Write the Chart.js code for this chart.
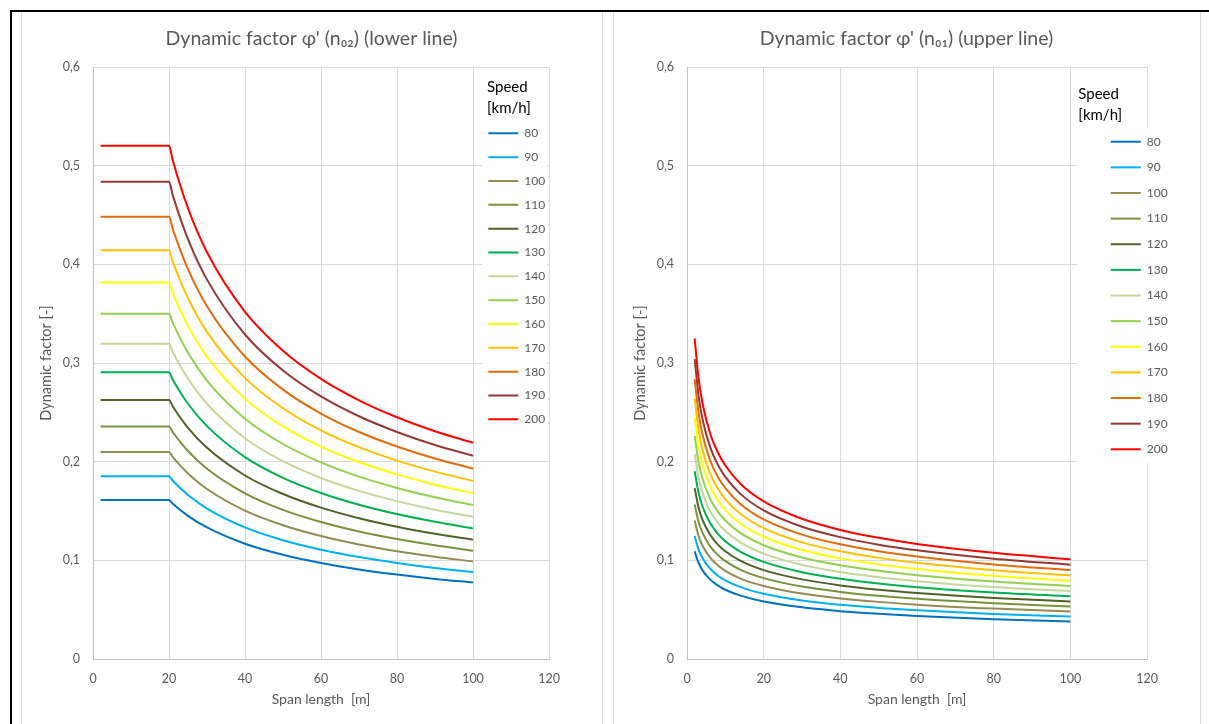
<!DOCTYPE html>
<html>
<head>
<meta charset="utf-8">
<script src="https://cdn.jsdelivr.net/npm/chart.js@4.4.1/dist/chart.umd.min.js"></script>
<style>
html, body { margin: 0; padding: 0; background: #ffffff; width: 1209px; height: 724px; overflow: hidden; position: relative; }
.frameTop { position: absolute; left: 10px; top: 10px; width: 1199px; height: 2px; background: #000; }
.frameLeft { position: absolute; left: 10px; top: 10px; width: 2px; height: 714px; background: #000; }
.box { position: absolute; top: 12px; height: 712px; border-left: 1px solid #D9D9D9; border-right: 1px solid #D9D9D9; box-sizing: border-box; }
canvas { position: absolute; top: 12px; }
</style>
</head>
<body>
<div class="frameTop"></div>
<div class="frameLeft"></div>
<div class="box" style="left:21px;width:582px;"></div>
<div class="box" style="left:613px;width:588px;"></div>
<canvas id="cLower" width="581" height="712" style="left:21px;"></canvas>
<canvas id="cUpper" width="587" height="712" style="left:613px;"></canvas>
<script>
// ---------------- data ----------------
const speeds = [80, 90, 100, 110, 120, 130, 140, 150, 160, 170, 180, 190, 200];
const xTickLabels = ['0', '20', '40', '60', '80', '100', '120'];
const yTickLabels = ['0', '0,1', '0,2', '0,3', '0,4', '0,5', '0,6'];

// lower line (n02): span length [m]
const spanLower = [2, 20, 21, 25, 30, 40, 50, 60, 70, 80, 90, 100];
const lower80  = [0.1612, 0.1612, 0.1574, 0.1451, 0.1333, 0.1168, 0.1056, 0.0973, 0.0908, 0.0856, 0.0812, 0.0776];
const lower90  = [0.1851, 0.1851, 0.1806, 0.1662, 0.1525, 0.1334, 0.1204, 0.1108, 0.1033, 0.0973, 0.0923, 0.0881];
const lower100 = [0.2099, 0.2099, 0.2047, 0.1881, 0.1723, 0.1504, 0.1356, 0.1246, 0.1161, 0.1093, 0.1037, 0.0989];
const lower110 = [0.2357, 0.2357, 0.2298, 0.2108, 0.1928, 0.1679, 0.1511, 0.1388, 0.1292, 0.1216, 0.1152, 0.1098];
const lower120 = [0.2625, 0.2625, 0.2559, 0.2343, 0.2140, 0.1860, 0.1672, 0.1534, 0.1427, 0.1341, 0.1270, 0.1210];
const lower130 = [0.2905, 0.2905, 0.2830, 0.2587, 0.2360, 0.2046, 0.1836, 0.1683, 0.1564, 0.1469, 0.1390, 0.1324];
const lower140 = [0.3196, 0.3196, 0.3112, 0.2841, 0.2587, 0.2238, 0.2005, 0.1835, 0.1704, 0.1600, 0.1513, 0.1441];
const lower150 = [0.3499, 0.3499, 0.3406, 0.3103, 0.2822, 0.2435, 0.2179, 0.1992, 0.1848, 0.1734, 0.1639, 0.1560];
const lower160 = [0.3815, 0.3815, 0.3711, 0.3376, 0.3065, 0.2639, 0.2357, 0.2153, 0.1996, 0.1871, 0.1767, 0.1681];
const lower170 = [0.4143, 0.4143, 0.4028, 0.3658, 0.3316, 0.2849, 0.2541, 0.2318, 0.2147, 0.2011, 0.1899, 0.1805];
const lower180 = [0.4483, 0.4483, 0.4357, 0.3952, 0.3576, 0.3066, 0.2730, 0.2487, 0.2301, 0.2154, 0.2032, 0.1931];
const lower190 = [0.4837, 0.4837, 0.4699, 0.4255, 0.3845, 0.3289, 0.2924, 0.2661, 0.2460, 0.2301, 0.2169, 0.2060];
const lower200 = [0.5203, 0.5203, 0.5053, 0.4569, 0.4123, 0.3519, 0.3124, 0.2839, 0.2622, 0.2450, 0.2309, 0.2191];

// upper line (n01): span length [m]
const spanUpper = [2, 3, 4, 6, 8, 10, 14, 20, 30, 40, 50, 60, 80, 100];
const upper80  = [0.1092, 0.0976, 0.0901, 0.0807, 0.0746, 0.0702, 0.0642, 0.0583, 0.0524, 0.0485, 0.0458, 0.0436, 0.0404, 0.0381];
const upper90  = [0.1246, 0.1111, 0.1026, 0.0917, 0.0847, 0.0797, 0.0728, 0.0661, 0.0593, 0.0549, 0.0518, 0.0493, 0.0457, 0.0431];
const upper100 = [0.1403, 0.1250, 0.1153, 0.1029, 0.0950, 0.0894, 0.0815, 0.0740, 0.0663, 0.0614, 0.0579, 0.0551, 0.0511, 0.0481];
const upper110 = [0.1565, 0.1392, 0.1283, 0.1144, 0.1055, 0.0992, 0.0904, 0.0820, 0.0734, 0.0680, 0.0640, 0.0610, 0.0565, 0.0532];
const upper120 = [0.1732, 0.1538, 0.1415, 0.1261, 0.1162, 0.1092, 0.0994, 0.0901, 0.0807, 0.0746, 0.0702, 0.0669, 0.0619, 0.0583];
const upper130 = [0.1903, 0.1688, 0.1551, 0.1380, 0.1271, 0.1194, 0.1086, 0.0984, 0.0880, 0.0813, 0.0765, 0.0728, 0.0674, 0.0635];
const upper140 = [0.2080, 0.1841, 0.1691, 0.1502, 0.1383, 0.1297, 0.1180, 0.1068, 0.0954, 0.0881, 0.0829, 0.0789, 0.0730, 0.0687];
const upper150 = [0.2261, 0.1999, 0.1834, 0.1627, 0.1496, 0.1403, 0.1275, 0.1153, 0.1029, 0.0950, 0.0894, 0.0850, 0.0786, 0.0740];
const upper160 = [0.2448, 0.2160, 0.1979, 0.1754, 0.1612, 0.1511, 0.1371, 0.1239, 0.1105, 0.1020, 0.0959, 0.0912, 0.0843, 0.0793];
const upper170 = [0.2640, 0.2325, 0.2129, 0.1884, 0.1730, 0.1620, 0.1469, 0.1326, 0.1182, 0.1091, 0.1025, 0.0975, 0.0900, 0.0847];
const upper180 = [0.2837, 0.2496, 0.2282, 0.2017, 0.1850, 0.1732, 0.1569, 0.1415, 0.1261, 0.1162, 0.1092, 0.1038, 0.0958, 0.0901];
const upper190 = [0.3040, 0.2670, 0.2439, 0.2153, 0.1973, 0.1845, 0.1671, 0.1506, 0.1340, 0.1235, 0.1159, 0.1102, 0.1017, 0.0956];
const upper200 = [0.3250, 0.2849, 0.2600, 0.2291, 0.2098, 0.1961, 0.1774, 0.1598, 0.1421, 0.1308, 0.1228, 0.1166, 0.1076, 0.1011];

// ---------------- styling ----------------
const seriesColors = ['#0070C0', '#00B0F0', '#948A54', '#77933C', '#4F6228', '#00B050', '#C4D79B',
                      '#92D050', '#FFFF00', '#FFC000', '#E26B0A', '#953735', '#FF0000'];
const FONT = 'Lato, "Open Sans", "Noto Sans", sans-serif';
const GREY = '#595959';

const lowerSeries = [lower80, lower90, lower100, lower110, lower120, lower130, lower140,
                     lower150, lower160, lower170, lower180, lower190, lower200];
const upperSeries = [upper80, upper90, upper100, upper110, upper120, upper130, upper140,
                     upper150, upper160, upper170, upper180, upper190, upper200];

// places the library legend at a fixed spot, with a white backing and a two-line heading
const legendPlacer = {
  id: 'legendPlacer',
  afterLayout(chart, args, o) {
    const lg = chart.legend;
    if (!lg) return;
    lg.left = o.left; lg.top = o.top;
    lg.right = o.left + 118; lg.bottom = o.top + 420;
    if (!lg._wrapped) {
      const orig = lg.draw;
      lg.draw = function () {
        const c = chart.ctx;
        const opt = chart.options.plugins.legendPlacer;
        c.save();
        c.fillStyle = '#ffffff';
        c.fillRect(opt.box[0], opt.box[1], opt.box[2], opt.box[3]);
        c.fillStyle = '#000000';
        c.font = '15px ' + FONT;
        c.textAlign = 'left';
        c.textBaseline = 'middle';
        opt.heading.forEach((t, i) => c.fillText(t, opt.hx, opt.hy + i * opt.hlh));
        c.restore();
        return orig.apply(this, arguments);
      };
      lg._wrapped = true;
    }
  }
};

function makeChart(id, cfg) {
  const datasets = speeds.map((s, i) => ({
    label: String(s),
    data: cfg.span.map((x, j) => ({ x: x, y: cfg.series[i][j] })),
    borderColor: seriesColors[i],
    backgroundColor: seriesColors[i],
    pointBorderColor: seriesColors[i],
    pointBorderWidth: 2,
    borderWidth: 2,
    pointRadius: 0,
    pointHoverRadius: 0,
    fill: false,
    cubicInterpolationMode: 'monotone'
  }));
  return new Chart(document.getElementById(id), {
    type: 'line',
    data: { datasets },
    options: {
      responsive: false,
      animation: false,
      devicePixelRatio: 1,
      layout: { padding: 0 },
      plugins: {
        title: {
          display: true, text: cfg.title, color: GREY,
          font: { family: FONT, size: 19.5, weight: 'normal' },
          padding: { top: 15.3, bottom: 16.3 }
        },
        legend: {
          display: true, position: 'chartArea', align: 'start',
          labels: {
            usePointStyle: true, pointStyle: 'line', pointStyleWidth: 30,
            color: GREY, font: { family: FONT, size: 12 }, padding: cfg.legPad
          }
        },
        tooltip: { enabled: false },
        legendPlacer: cfg.legend
      },
      scales: {
        x: {
          type: 'linear', min: 0, max: 120,
          afterFit: (s) => { s.height = 65; },
          ticks: {
            stepSize: 20, padding: 12, color: GREY, maxRotation: 0,
            font: { family: FONT, size: 12.5 },
            callback: (v) => xTickLabels[Math.round(v / 20)]
          },
          grid: { color: '#D9D9D9', drawTicks: false },
          border: { color: '#BFBFBF' },
          title: {
            display: true, text: 'Span length  [m]', color: GREY,
            font: { family: FONT, size: 14 }, padding: { top: 0, bottom: 16.6 }
          }
        },
        y: {
          type: 'linear', min: 0, max: 0.6,
          afterFit: (s) => { s.width = cfg.yWidth; },
          ticks: {
            stepSize: 0.1, padding: 13, color: GREY,
            font: { family: FONT, size: 12.5 },
            callback: (v) => yTickLabels[Math.round(v * 10)]
          },
          grid: { color: '#D9D9D9', drawTicks: false },
          border: { color: '#BFBFBF' },
          title: {
            display: true, text: 'Dynamic factor [-]', color: GREY,
            font: { family: FONT, size: 14.5 }, padding: { top: cfg.yTitlePad, bottom: 0 }
          }
        },
        // empty right-hand margin so the title stays centred on the whole panel
        yMargin: {
          type: 'linear', position: 'right', display: true,
          afterFit: (s) => { s.width = cfg.rightMargin; },
          ticks: { display: false },
          grid: { display: false },
          border: { display: false },
          title: { display: false }
        }
      }
    },
    plugins: [legendPlacer]
  });
}

makeChart('cLower', {
  span: spanLower, series: lowerSeries,
  title: "Dynamic factor \u03C6' (n\u2080\u2082) (lower line)",
  rightMargin: 53, yWidth: 72, yTitlePad: 16.3, legPad: 11.83,
  legend: { left: 455.5, top: 103.5, box: [461, 63, 65, 357], heading: ['Speed', '[km/h]'], hx: 466, hy: 74.7, hlh: 21.6 }
});
makeChart('cUpper', {
  span: spanUpper, series: upperSeries,
  title: "Dynamic factor \u03C6' (n\u2080\u2081) (upper line)",
  rightMargin: 53, yWidth: 74, yTitlePad: 18.3, legPad: 13.63,
  legend: { left: 484.1, top: 110.1, box: [464, 116, 76, 335], heading: ['Speed', '[km/h]'], hx: 465.3, hy: 82, hlh: 21 }
});
</script>
</body>
</html>
